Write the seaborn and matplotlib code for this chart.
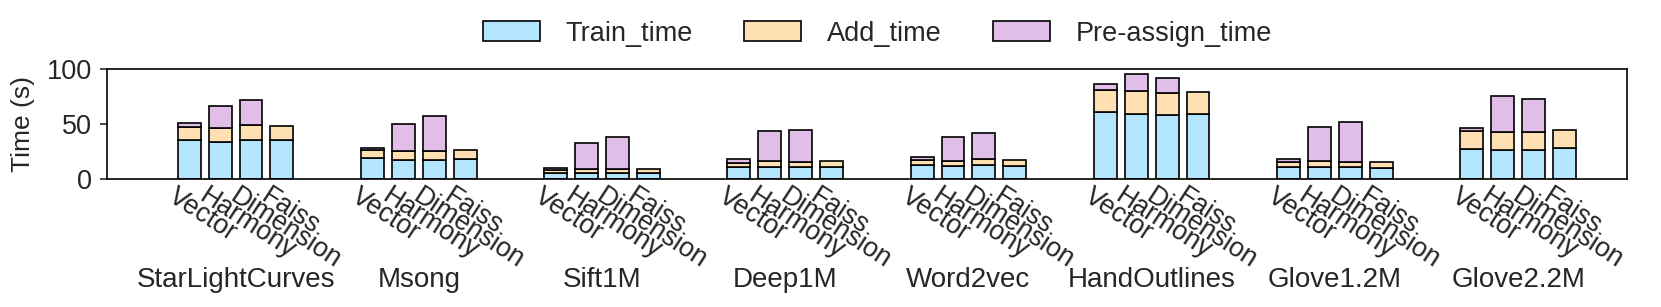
import numpy as np
import matplotlib
matplotlib.use("Agg")
import matplotlib.pyplot as plt
import seaborn as sns

# datasets and methods
datasets = ['StarLightCurves', 'Msong', 'Sift1M', 'Deep1M', 'Word2vec',
            'HandOutlines', 'Glove1.2M', 'Glove2.2M']
methods = ['Vector', 'Harmony', 'Dimension', 'Faiss']

# seconds, one row per dataset, columns follow methods
train_time = [
    [35.6, 33.8, 36.0, 35.3],
    [19.3, 17.8, 17.5, 18.4],
    [5.4, 5.7, 5.7, 5.5],
    [11.5, 11.5, 10.9, 10.9],
    [13.0, 11.8, 12.7, 12.1],
    [61.0, 59.2, 58.3, 58.9],
    [10.9, 10.9, 10.9, 10.3],
    [27.2, 26.3, 26.3, 28.1],
]
add_time = [
    [12.1, 12.7, 13.2, 13.0],
    [7.0, 8.2, 8.5, 8.2],
    [3.0, 3.7, 3.3, 4.0],
    [3.6, 4.8, 4.8, 5.5],
    [4.5, 5.1, 5.4, 5.8],
    [20.6, 20.8, 20.2, 20.3],
    [4.8, 5.4, 5.1, 5.5],
    [16.6, 16.3, 16.9, 16.3],
]
preassign_time = [
    [3.7, 20.3, 23.0, 0.0],
    [2.4, 24.5, 31.1, 0.0],
    [1.8, 23.8, 29.7, 0.0],
    [3.0, 27.5, 28.7, 0.0],
    [2.7, 21.8, 24.2, 0.0],
    [5.1, 15.8, 13.6, 0.0],
    [2.4, 31.4, 36.3, 0.0],
    [2.4, 32.9, 29.6, 0.0],
]
series_names = ['Train_time', 'Add_time', 'Pre-assign_time']
colors = ['#B3E5FC', '#FFE0B2', '#E1BEE7']

sns.set_theme(style="ticks")
plt.rcParams['font.family'] = ['Liberation Sans', 'DejaVu Sans']
FS = 19.5
LW = 1.2

fig = plt.figure(figsize=(16.61, 3.07), dpi=100)
ax = fig.add_axes([0.0644, 0.416, 0.915, 0.3584])

step = 0.1686
width = 0.125
group_x = np.arange(len(datasets))
offsets = (np.arange(len(methods)) - 1.5) * step

train = np.array(train_time)
add = np.array(add_time)
pre = np.array(preassign_time)

tick_pos, tick_lab = [], []
for j, m in enumerate(methods):
    xs = group_x + offsets[j]
    ax.bar(xs, train[:, j], width, color=colors[0], edgecolor='black', linewidth=LW,
           label=series_names[0] if j == 0 else None)
    ax.bar(xs, add[:, j], width, bottom=train[:, j], color=colors[1], edgecolor='black',
           linewidth=LW, label=series_names[1] if j == 0 else None)
    pre_j = pre[:, j]
    mask = pre_j > 0
    ax.bar(xs[mask], pre_j[mask], width, bottom=(train[:, j] + add[:, j])[mask],
           color=colors[2], edgecolor='black', linewidth=LW,
           label=series_names[2] if j == 0 else None)
    for x in xs:
        tick_pos.append(x - width / 2)
        tick_lab.append(m)

order = np.argsort(tick_pos)
ax.set_xticks(np.array(tick_pos)[order])
ax.set_xticklabels(np.array(tick_lab)[order], rotation=-33, ha='left', va='top',
                   rotation_mode='anchor', fontsize=19.3)
ax.tick_params(axis='x', length=0, pad=3)
ax.tick_params(axis='y', length=5, width=1.2, labelsize=FS, pad=6)

ax.set_xlim(-0.702, 7.593)
ax.set_ylim(0, 100)
ax.set_yticks([0, 50, 100])
ax.set_ylabel('Time (s)', fontsize=19, labelpad=8)
for s in ax.spines.values():
    s.set_visible(True)
    s.set_linewidth(1.2)
    s.set_color('black')

trans = matplotlib.transforms.blended_transform_factory(ax.transData, ax.transAxes)
for i, d in enumerate(datasets):
    ax.text(group_x[i], -0.976, d, transform=trans, ha='center', va='baseline', fontsize=20)

ax.legend(loc='center', bbox_to_anchor=(0.507, 1.324), ncol=3, frameon=False, fontsize=FS,
          handlelength=2.1, handleheight=0.72, handletextpad=0.95, columnspacing=1.9)

fig.savefig('out.png', dpi=100)
